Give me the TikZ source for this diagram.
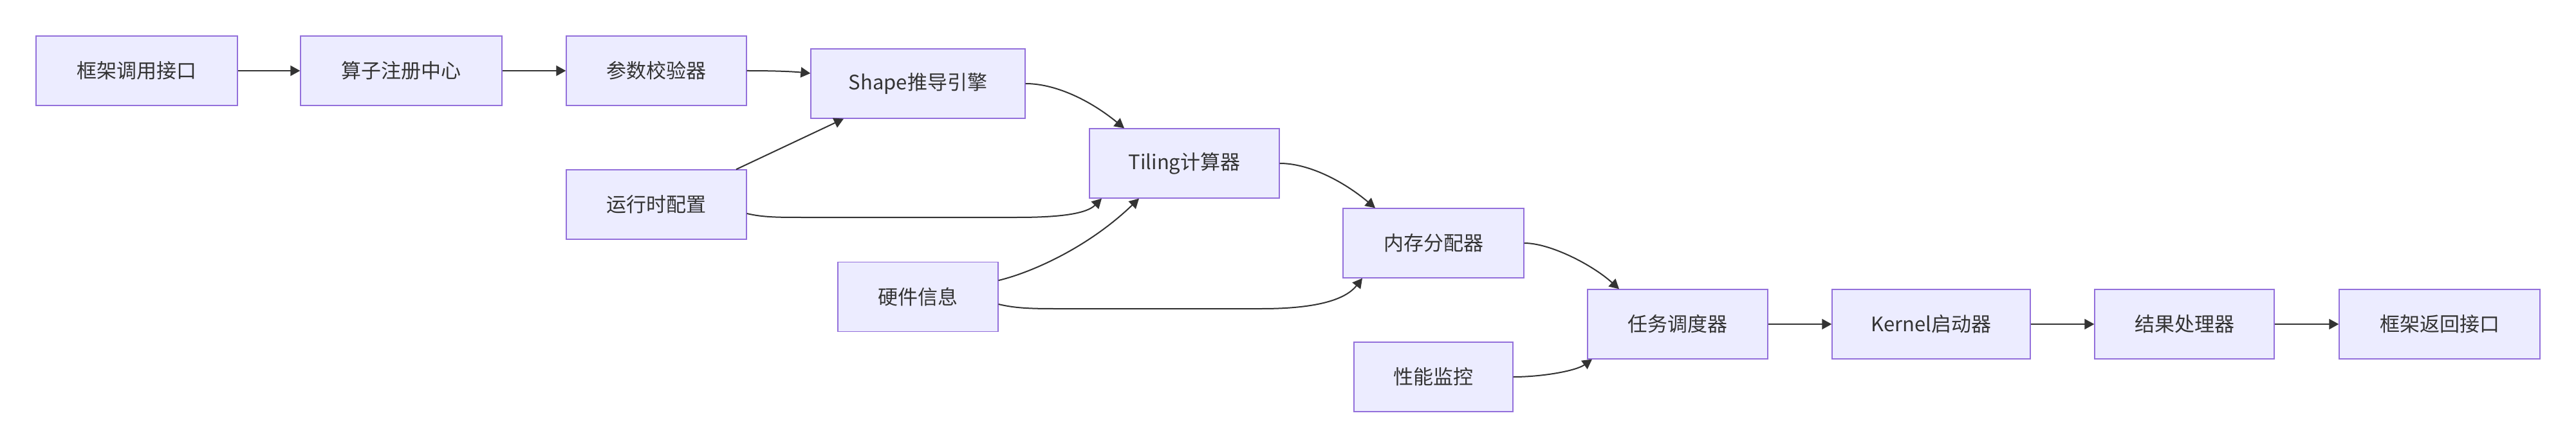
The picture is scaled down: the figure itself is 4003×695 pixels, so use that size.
\documentclass[tikz,border=0pt]{standalone}
\usepackage{fontspec}
\setmainfont{Noto Sans CJK SC}
\usetikzlibrary{arrows.meta,calc}
\definecolor{boxfill}{HTML}{ECECFF}
\definecolor{boxline}{HTML}{9370DB}
\definecolor{ink}{HTML}{333333}
\begin{document}
\begin{tikzpicture}[x=0.5pt,y=-0.5pt,
  box/.style={draw=boxline,fill=boxfill,line width=0.65pt,minimum height=54pt,inner sep=0pt,
    text=ink,font=\fontsize{15.5pt}{18pt}\selectfont},
  link/.style={draw=ink,line width=1pt,-{Triangle[length=7.5pt,width=8pt]}}]
\useasboundingbox (0,0) rectangle (4003,695);
\fill[white] (0,0) rectangle (4003,695);
\node[box,minimum width=156.5pt] (A) at (212.5,110) {框架调用接口};
\node[box,minimum width=156.5pt] (B) at (623.5,110) {算子注册中心};
\node[box,minimum width=140pt] (C) at (1020,110) {参数校验器};
\node[box,minimum width=166.5pt] (D) at (1426.5,130) {Shape推导引擎};
\node[box,minimum width=140pt] (E) at (1020,318) {运行时配置};
\node[box,minimum width=147.5pt] (F) at (1840.5,254) {Tiling计算器};
\node[box,minimum width=124.5pt] (G) at (1426.5,461.5) {硬件信息};
\node[box,minimum width=140.5pt] (H) at (2227.5,378) {内存分配器};
\node[box,minimum width=123.5pt] (I) at (2227.5,586) {性能监控};
\node[box,minimum width=140pt] (J) at (2607,504) {任务调度器};
\node[box,minimum width=154pt] (K) at (3001,504) {Kernel启动器};
\node[box,minimum width=139.5pt] (L) at (3394.5,504) {结果处理器};
\node[box,minimum width=156pt] (M) at (3791,504) {框架返回接口};
% straight
\draw[link] (A.east) -- (B.west);
\draw[link] (B.east) -- (C.west);
\draw[link] (J.east) -- (K.west);
\draw[link] (K.east) -- (L.west);
\draw[link] (L.east) -- (M.west);
% curves
\draw[link] (C.east) .. controls +(40,0) and +(-30,-3) .. ($(D.west)+(0,-16)$);
\draw[link] ($(E.north)+(124,0)$) -- ($(D.south)+(-115.5,0)$);
\draw[link] (D.east) .. controls +(45,0) and +(-55,-45) .. ($(F.north)+(-93.5,0)$);
\draw[link] ($(E.east)+(0,14)$) .. controls +(25,6) and +(-40,0) .. (1250,338) -- (1580,338)
  .. controls +(60,0) and +(-25,25) .. ($(F.south)+(-128.5,0)$);
\draw[link] ($(G.east)+(0,-25.5)$) .. controls +(50,-12) and +(-80,77) .. ($(F.south)+(-70.5,0)$);
\draw[link] (F.east) .. controls +(45,0) and +(-50,-42) .. ($(H.north)+(-90.5,0)$);
\draw[link] ($(G.east)+(0,11.5)$) .. controls +(25,6) and +(-40,0) .. (1640,480) -- (1960,480)
  .. controls +(70,0) and +(-30,38) .. ($(H.south)+(-110.5,0)$);
\draw[link] (H.east) .. controls +(40,0) and +(-42,-38) .. ($(J.north)+(-91,0)$);
\draw[link] (I.east) .. controls +(45,0) and +(-25,18) .. ($(J.south)+(-133,0)$);
\end{tikzpicture}
\end{document}
